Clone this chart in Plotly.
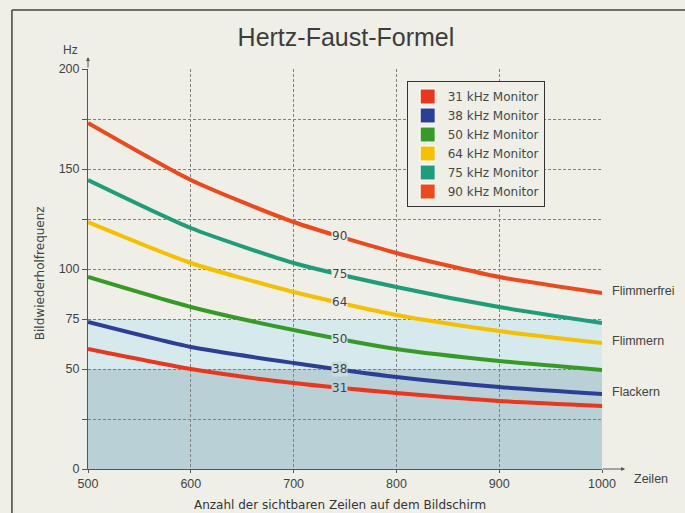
import numpy as np
import plotly.graph_objects as go

# ---- data ----
lines = [500, 600, 700, 800, 900, 1000]
monitors = ["31", "38", "50", "64", "75", "90"]
hz_31 = [60, 50, 43, 38, 34, 31.5]
hz_38 = [73.5, 61, 53, 46, 41, 37.5]
hz_50 = [96, 81, 69.5, 60, 54, 49.5]
hz_64 = [123.5, 103, 88.5, 77, 69, 63]
hz_75 = [144.5, 120.5, 103, 91, 81, 73]
hz_90 = [173, 144.5, 123.5, 108, 96, 88]
series = [hz_31, hz_38, hz_50, hz_64, hz_75, hz_90]
colors = ["#e8371e", "#2c3f95", "#379a26", "#f4c000", "#1f9c78", "#ea4a1e"]
zone_limits = [0, 50, 75]
zone_colors = ["#b9d0d6", "#d6eaee"]
zone_names = ["Flackern", "Flimmern", "Flimmerfrei"]
zone_ref_series = [hz_38, hz_64, hz_90]
label_x = 745
y_ticks = [0, 25, 50, 75, 100, 125, 150, 175, 200]
y_ticktext = ["0", "", "50", "75", "100", "", "150", "", "200"]
x_ticks = [500, 600, 700, 800, 900, 1000]

BG = "#efeee7"
TXT = "#3e4444"
FONT = "Liberation Sans"
WFONT = "DejaVu Sans"

fig = go.Figure()

# zones
for i in range(len(zone_limits) - 1):
    fig.add_shape(type="rect", xref="x", yref="y", x0=lines[0], x1=lines[-1],
                  y0=zone_limits[i], y1=zone_limits[i + 1],
                  fillcolor=zone_colors[i], line_width=0, layer="below")

# curves
for name, vals, col in zip(monitors, series, colors):
    fig.add_trace(go.Scatter(x=lines, y=vals, mode="lines",
                             line=dict(color=col, width=4, shape="spline", smoothing=0.6),
                             showlegend=False, hoverinfo="skip"))

# legend entries
for name, col in zip(monitors, colors):
    fig.add_trace(go.Scatter(x=[None], y=[None], mode="markers",
                             marker=dict(symbol="square", size=15, color=col, line=dict(color="#ffffff", width=1)),
                             name=f"{name} kHz Monitor"))

def band_color(v):
    for b in zone_limits[1:]:
        if abs(v - b) < 2:
            return "#c8dde2"
    for i in range(len(zone_limits) - 1):
        if zone_limits[i] <= v < zone_limits[i + 1]:
            return zone_colors[i]
    return BG

# inline labels
for name, vals in zip(monitors, series):
    yv = float(np.interp(label_x, lines, vals))
    fig.add_annotation(x=label_x, y=yv, text=name, showarrow=False, xanchor="center", yanchor="middle",
                       font=dict(family=WFONT, size=12, color=TXT),
                       bgcolor=band_color(yv), borderpad=0)

# right-side zone labels
for zn, ref in zip(zone_names, zone_ref_series):
    fig.add_annotation(x=1.0, xref="paper", y=ref[-1] + 1, yref="y", xanchor="left", yanchor="middle",
                       xshift=8, text=zn, showarrow=False, font=dict(family=FONT, size=12.5, color=TXT))

# axis arrows
fig.add_annotation(x=lines[0], xref="x", y=1.03, yref="paper", ax=0, ay=12, showarrow=True,
                   arrowhead=2, arrowsize=0.8, arrowwidth=1, arrowcolor="#555", text="")
fig.add_annotation(x=1.045, xref="paper", y=0, yref="y", ax=-24, ay=0, showarrow=True,
                   arrowhead=2, arrowsize=0.8, arrowwidth=1, arrowcolor="#555", text="")
fig.add_annotation(x=-0.035, xref="paper", y=1.0475, yref="paper", xanchor="center", yanchor="middle",
                   text="Hz", showarrow=False, font=dict(family=FONT, size=12, color=TXT))
fig.add_annotation(x=1.058, xref="paper", y=-0.025, yref="paper", xanchor="left", yanchor="middle",
                   text="Zeilen", showarrow=False, font=dict(family=FONT, size=12.5, color=TXT))
fig.add_annotation(x=0.49, xref="paper", y=-0.09, yref="paper", xanchor="center", yanchor="middle",
                   text="Anzahl der sichtbaren Zeilen auf dem Bildschirm",
                   showarrow=False, font=dict(family=WFONT, size=12, color="#333"))
fig.add_annotation(x=-0.093, xref="paper", y=0.49, yref="paper", xanchor="center", yanchor="middle",
                   textangle=-90, text="Bildwiederholfrequenz", showarrow=False,
                   font=dict(family=WFONT, size=12, color=TXT))

# frame
fig.add_shape(type="line", xref="paper", yref="paper", x0=-0.148, x1=-0.148, y0=-0.2, y1=1.1475,
              line=dict(color="#444", width=1.5))
fig.add_shape(type="line", xref="paper", yref="paper", x0=-0.148, x1=1.2, y0=1.1475, y1=1.1475,
              line=dict(color="#444", width=1.5))

fig.update_layout(
    width=685, height=513,
    margin=dict(l=88, r=83, t=69, b=44),
    paper_bgcolor=BG, plot_bgcolor=BG,
    title=dict(text="Hertz-Faust-Formel", x=0.505, xanchor="center", y=0.928, yanchor="middle",
               font=dict(family=FONT, size=25, color="#3d3d3d")),
    font=dict(family=FONT, size=12, color=TXT),
    legend=dict(x=0.62, y=0.97, xanchor="left", yanchor="top", bgcolor=BG,
                bordercolor="#333", borderwidth=1, font=dict(family=WFONT, size=12, color="#3f4a4a"),
                tracegroupgap=0, itemwidth=30),
    showlegend=True,
)
fig.update_xaxes(range=[lines[0], lines[-1]], tickvals=x_ticks, showgrid=True, gridcolor="#808080",
                 griddash="3px,2px", gridwidth=1, zeroline=False, showline=True, linecolor="#555",
                 ticks="outside", ticklen=3, tickcolor="#555", tickfont=dict(size=12.5, color=TXT))
fig.update_yaxes(range=[0, 200], tickvals=y_ticks, ticktext=y_ticktext, showgrid=True, gridcolor="#808080",
                 griddash="3px,2px", gridwidth=1, zeroline=False, showline=True, linecolor="#555",
                 ticks="outside", ticklen=5, tickcolor="#555", tickfont=dict(size=12.5, color=TXT))

fig.write_html("out.html", config={"displayModeBar": False},
               post_script="document.body.style.margin='0';document.body.style.background='%s';" % BG)
